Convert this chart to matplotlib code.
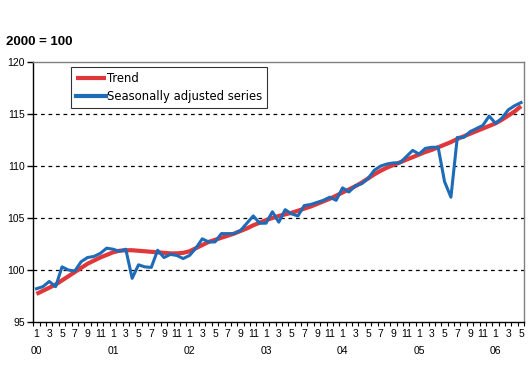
import numpy as np
import matplotlib
matplotlib.use("Agg")
import matplotlib.pyplot as plt

# --- dados (índice 2000 = 100), jan/2000 .. mai/2006 ---
years = ["00", "01", "02", "03", "04", "05", "06"]
months = [1, 2, 3, 4, 5, 6, 7, 8, 9, 10, 11, 12]

trend = [
    97.7, 98.0, 98.3, 98.6, 99.0, 99.4, 99.8, 100.2, 100.6, 100.9, 101.2, 101.45,
    101.7, 101.85, 101.9, 101.9, 101.85, 101.8, 101.75, 101.7, 101.65, 101.6, 101.6, 101.65,
    101.8, 102.1, 102.4, 102.7, 102.9, 103.1, 103.3, 103.5, 103.75, 104.0, 104.3, 104.55,
    104.8, 105.0, 105.2, 105.35, 105.5, 105.7, 105.9, 106.1, 106.35, 106.6, 106.85, 107.15,
    107.45, 107.75, 108.05, 108.4, 108.8, 109.2, 109.55, 109.85, 110.1, 110.35, 110.6, 110.85,
    111.1, 111.35, 111.55, 111.8, 112.05, 112.3, 112.6, 112.85, 113.1, 113.35, 113.6, 113.85,
    114.1, 114.45, 114.85, 115.25, 115.75,
]

seasonal = [
    98.2, 98.4, 98.9, 98.4, 100.3, 100.0, 99.9, 100.8, 101.2, 101.3, 101.6, 102.1,
    102.0, 101.8, 102.0, 99.2, 100.5, 100.3, 100.25, 101.9, 101.2, 101.5, 101.4, 101.1,
    101.4, 102.1, 103.0, 102.7, 102.7, 103.5, 103.5, 103.5, 103.8, 104.5, 105.2, 104.5,
    104.5, 105.6, 104.6, 105.8, 105.4, 105.2, 106.2, 106.3, 106.5, 106.7, 107.0, 106.7,
    107.9, 107.5, 108.1, 108.3, 108.8, 109.6, 110.0, 110.2, 110.3, 110.3, 110.9, 111.5,
    111.15, 111.7, 111.8, 111.8, 108.5, 107.0, 112.75, 112.75, 113.3, 113.6, 113.9, 114.8,
    114.1, 114.6, 115.4, 115.8, 116.1,
]

n = len(trend)
x = np.arange(n)
mes = [months[i % 12] for i in range(n)]

plt.rcParams['font.family'] = ['Liberation Sans', 'DejaVu Sans']

# --- figura ---
fig = plt.figure(figsize=(5.29, 3.66), dpi=100)
ax = fig.add_axes([0.063, 0.1202, 0.928, 0.7104])

ax.plot(x, trend, color='#E0383A', linewidth=3.0, label='Trend', zorder=3,
        solid_capstyle='butt')
ax.plot(x, seasonal, color='#1E6BB8', linewidth=2.2, label='Seasonally adjusted series',
        zorder=4)

ax.set_xlim(-0.5, n - 0.5)
ax.set_ylim(95, 120)

# grade tracejada
for v in [100, 105, 110, 115]:
    ax.axhline(v, color='black', linestyle=(0, (3, 3)), linewidth=0.9, zorder=1)

# eixos
ax.spines['left'].set_color('black')
ax.spines['bottom'].set_color('black')
ax.spines['top'].set_color('#808080')
ax.spines['right'].set_color('#808080')
for s in ax.spines.values():
    s.set_linewidth(1.0)

ax.set_yticks([95, 100, 105, 110, 115, 120])
ax.tick_params(axis='y', direction='out', length=4, width=1, labelsize=7.5, pad=2)

# ticks do eixo x nas fronteiras, rótulos nos centros
ax.set_xticks(np.arange(-0.5, n, 1.0))
ax.set_xticklabels([])
ax.tick_params(axis='x', which='major', direction='out', length=3, width=0.8)
lab_pos = [i for i in range(n) if mes[i] % 2 == 1]
ax.set_xticks(lab_pos, minor=True)
ax.set_xticklabels([str(mes[i]) for i in lab_pos], minor=True)
ax.tick_params(axis='x', which='minor', length=0, labelsize=7.5, pad=5)

for k, yr in enumerate(years):
    ax.annotate(yr, xy=(k * 12, 0), xycoords=('data', 'axes fraction'),
                xytext=(0, -21), textcoords='offset points',
                ha='center', va='center', fontsize=7.5)

fig.text(0.011, 0.885, '2000 = 100', fontsize=9.5, fontweight='bold',
         ha='left', va='center')

leg = ax.legend(loc='upper left', bbox_to_anchor=(0.077, 0.98),
                prop={'family': 'DejaVu Sans', 'size': 8.4},
                frameon=True, fancybox=False, handlelength=2.5, handletextpad=0.1,
                borderpad=0.45, labelspacing=0.4, borderaxespad=0)
leg.get_frame().set_edgecolor('black')
leg.get_frame().set_linewidth(0.8)
for h in leg.get_lines():
    h.set_linewidth(3.0)

plt.savefig('out.png', dpi=100)
